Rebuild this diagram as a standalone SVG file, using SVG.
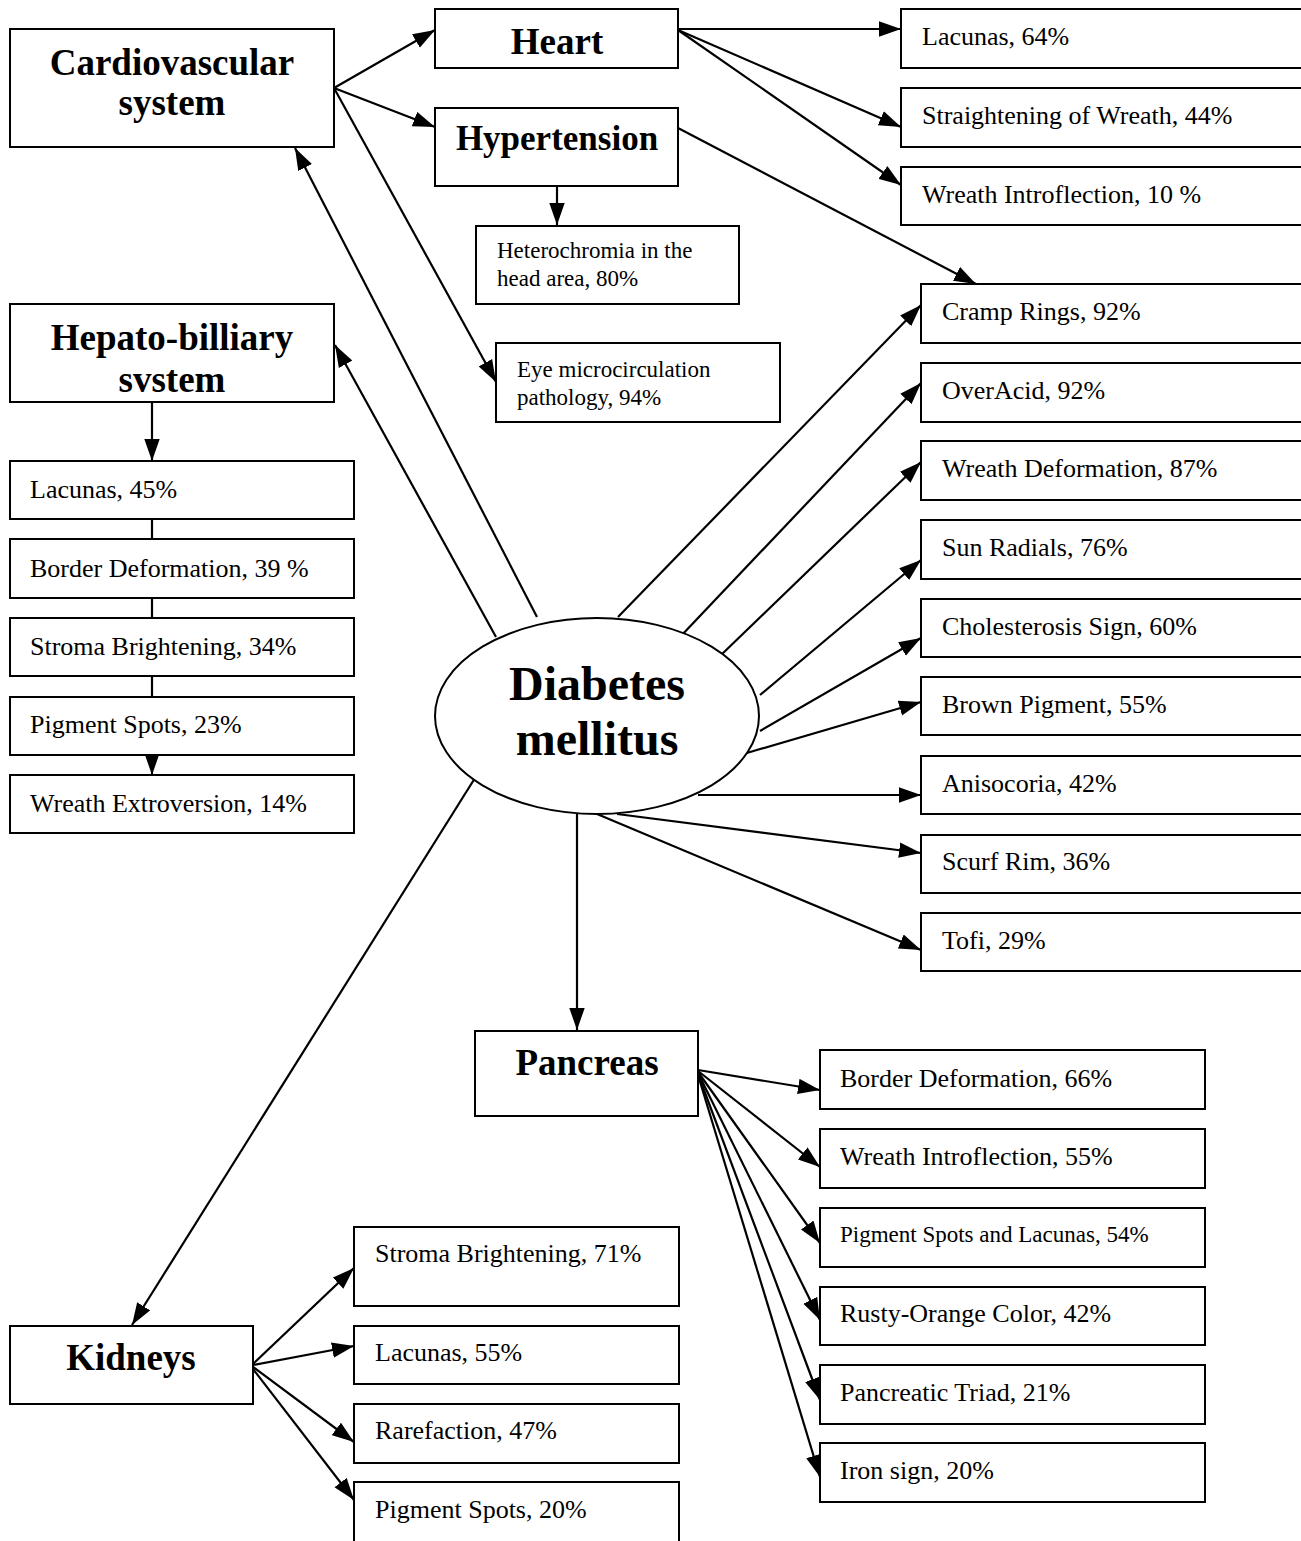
<svg xmlns="http://www.w3.org/2000/svg" width="1301" height="1541" viewBox="0 0 1301 1541">
<style>
.bx{fill:#fff;stroke:#000;stroke-width:2}
.t{font-family:"Liberation Serif","Times New Roman",serif;font-size:26px;fill:#000}
.s{font-family:"Liberation Serif","Times New Roman",serif;font-size:23px;fill:#000}
.b{font-family:"Liberation Serif","Times New Roman",serif;font-size:37px;font-weight:bold;fill:#000;text-anchor:middle}
.c line{stroke:#000;stroke-width:2.2;fill:none}
.a{marker-end:url(#ah)}
</style>
<defs>
<marker id="ah" markerUnits="userSpaceOnUse" markerWidth="22" markerHeight="16" refX="20" refY="7" orient="auto" viewBox="0 0 20 14">
<path d="M0,0 L20,7 L0,14 z" fill="#000"/>
</marker>
</defs>
<rect width="1301" height="1541" fill="#fff"/>
<g class="c" id="connectors">
<line class="a" x1="334" y1="88" x2="435" y2="30"/>
<line class="a" x1="334" y1="88" x2="435" y2="127"/>
<line class="a" x1="334" y1="88" x2="496" y2="382"/>
<line class="a" x1="537" y1="617" x2="295" y2="148"/>
<line class="a" x1="496" y1="637" x2="335" y2="345"/>
<line class="a" x1="678" y1="29" x2="901" y2="29"/>
<line class="a" x1="678" y1="30" x2="901" y2="127"/>
<line class="a" x1="678" y1="30" x2="901" y2="185"/>
<line class="a" x1="557" y1="186" x2="557" y2="225"/>
<line class="a" x1="678" y1="128" x2="976" y2="284"/>
<line class="a" x1="618" y1="617" x2="921" y2="305"/>
<line class="a" x1="680" y1="637" x2="921" y2="383"/>
<line class="a" x1="720" y1="656" x2="921" y2="462"/>
<line class="a" x1="760" y1="695" x2="921" y2="560"/>
<line class="a" x1="760" y1="731" x2="921" y2="638"/>
<line class="a" x1="740" y1="755" x2="921" y2="702"/>
<line class="a" x1="698" y1="795" x2="921" y2="795"/>
<line class="a" x1="617" y1="814" x2="921" y2="853"/>
<line class="a" x1="597" y1="814" x2="921" y2="950"/>
<line class="a" x1="577" y1="814" x2="577" y2="1030"/>
<line class="a" x1="475" y1="778" x2="132" y2="1325"/>
<line class="a" x1="152" y1="402" x2="152" y2="461"/>
<line x1="152" y1="519" x2="152" y2="539"/>
<line x1="152" y1="598" x2="152" y2="618"/>
<line x1="152" y1="676" x2="152" y2="697"/>
<line class="a" x1="152" y1="755" x2="152" y2="775"/>
<line class="a" x1="698" y1="1070" x2="820" y2="1090"/>
<line class="a" x1="698" y1="1071" x2="820" y2="1167"/>
<line class="a" x1="698" y1="1072" x2="820" y2="1243"/>
<line class="a" x1="698" y1="1073" x2="820" y2="1320"/>
<line class="a" x1="698" y1="1074" x2="820" y2="1400"/>
<line class="a" x1="698" y1="1075" x2="820" y2="1477"/>
<line class="a" x1="253" y1="1364" x2="354" y2="1268"/>
<line class="a" x1="253" y1="1365" x2="354" y2="1346"/>
<line class="a" x1="253" y1="1367" x2="354" y2="1442"/>
<line class="a" x1="253" y1="1369" x2="354" y2="1500"/>
</g>
<g id="diabetes"><ellipse class="bx" cx="597" cy="716" rx="162" ry="98"/><text class="b" style="font-size:48px" x="597" y="700">Diabetes</text><text class="b" style="font-size:48px" x="597" y="755">mellitus</text></g>
<g id="cardio"><rect class="bx" x="10" y="29" width="324" height="118"/><text class="b" x="172" y="75">Cardiovascular</text><text class="b" x="172" y="115">system</text></g>
<g id="heart"><rect class="bx" x="435" y="9" width="243" height="59"/><text class="b" x="557" y="54">Heart</text></g>
<g id="hypertension"><rect class="bx" x="435" y="108" width="243" height="78"/><text class="b" style="font-size:35px" x="557" y="150">Hypertension</text></g>
<g id="heterochromia"><rect class="bx" x="476" y="226" width="263" height="78"/><text class="s" x="497" y="258">Heterochromia in the</text><text class="s" x="497" y="286">head area, 80%</text></g>
<g id="eye"><rect class="bx" x="496" y="343" width="284" height="79"/><text class="s" x="517" y="377">Eye microcirculation</text><text class="s" x="517" y="405">pathology, 94%</text></g>
<g id="h-lacunas"><rect class="bx" x="901" y="9" width="410" height="59"/><text class="t" x="922" y="45">Lacunas, 64%</text></g>
<g id="h-straight"><rect class="bx" x="901" y="88" width="410" height="59"/><text class="t" x="922" y="124">Straightening of Wreath, 44%</text></g>
<g id="h-intro"><rect class="bx" x="901" y="167" width="410" height="58"/><text class="t" x="922" y="203">Wreath Introflection, 10 %</text></g>
<g id="cramp"><rect class="bx" x="921" y="284" width="390" height="59"/><text class="t" x="942" y="320">Cramp Rings, 92%</text></g>
<g id="overacid"><rect class="bx" x="921" y="363" width="390" height="59"/><text class="t" x="942" y="399">OverAcid, 92%</text></g>
<g id="wreathdef"><rect class="bx" x="921" y="441" width="390" height="59"/><text class="t" x="942" y="477">Wreath Deformation, 87%</text></g>
<g id="sun"><rect class="bx" x="921" y="520" width="390" height="59"/><text class="t" x="942" y="556">Sun Radials, 76%</text></g>
<g id="chol"><rect class="bx" x="921" y="599" width="390" height="58"/><text class="t" x="942" y="635">Cholesterosis Sign, 60%</text></g>
<g id="brown"><rect class="bx" x="921" y="677" width="390" height="58"/><text class="t" x="942" y="713">Brown Pigment, 55%</text></g>
<g id="aniso"><rect class="bx" x="921" y="756" width="390" height="58"/><text class="t" x="942" y="792">Anisocoria, 42%</text></g>
<g id="scurf"><rect class="bx" x="921" y="835" width="390" height="58"/><text class="t" x="942" y="870">Scurf Rim, 36%</text></g>
<g id="tofi"><rect class="bx" x="921" y="913" width="390" height="58"/><text class="t" x="942" y="949">Tofi, 29%</text></g>
<g id="hepato"><rect class="bx" x="10" y="304" width="324" height="98"/><text class="b" x="172" y="350">Hepato-billiary</text><text class="b" x="172" y="392">svstem</text></g>
<g id="hp-lacunas"><rect class="bx" x="10" y="461" width="344" height="58"/><text class="t" x="30" y="498">Lacunas, 45%</text></g>
<g id="hp-border"><rect class="bx" x="10" y="539" width="344" height="59"/><text class="t" x="30" y="577">Border Deformation, 39 %</text></g>
<g id="hp-stroma"><rect class="bx" x="10" y="618" width="344" height="58"/><text class="t" x="30" y="655">Stroma Brightening, 34%</text></g>
<g id="hp-pigment"><rect class="bx" x="10" y="697" width="344" height="58"/><text class="t" x="30" y="733">Pigment Spots, 23%</text></g>
<g id="hp-extro"><rect class="bx" x="10" y="775" width="344" height="58"/><text class="t" x="30" y="812">Wreath Extroversion, 14%</text></g>
<g id="pancreas"><rect class="bx" x="475" y="1031" width="223" height="85"/><text class="b" x="587" y="1075">Pancreas</text></g>
<g id="p-border"><rect class="bx" x="820" y="1050" width="385" height="59"/><text class="t" x="840" y="1087">Border Deformation, 66%</text></g>
<g id="p-intro"><rect class="bx" x="820" y="1129" width="385" height="59"/><text class="t" x="840" y="1165">Wreath Introflection, 55%</text></g>
<g id="p-pigment"><rect class="bx" x="820" y="1208" width="385" height="59"/><text class="s" x="840" y="1242">Pigment Spots and Lacunas, 54%</text></g>
<g id="p-rusty"><rect class="bx" x="820" y="1287" width="385" height="58"/><text class="t" x="840" y="1322">Rusty-Orange Color, 42%</text></g>
<g id="p-triad"><rect class="bx" x="820" y="1365" width="385" height="59"/><text class="t" x="840" y="1401">Pancreatic Triad, 21%</text></g>
<g id="p-iron"><rect class="bx" x="820" y="1443" width="385" height="59"/><text class="t" x="840" y="1479">Iron sign, 20%</text></g>
<g id="kidneys"><rect class="bx" x="10" y="1326" width="243" height="78"/><text class="b" x="131" y="1370">Kidneys</text></g>
<g id="k-stroma"><rect class="bx" x="354" y="1227" width="325" height="79"/><text class="t" x="375" y="1262">Stroma Brightening, 71%</text></g>
<g id="k-lacunas"><rect class="bx" x="354" y="1326" width="325" height="58"/><text class="t" x="375" y="1361">Lacunas, 55%</text></g>
<g id="k-rare"><rect class="bx" x="354" y="1404" width="325" height="59"/><text class="t" x="375" y="1439">Rarefaction, 47%</text></g>
<g id="k-pigment"><rect class="bx" x="354" y="1482" width="325" height="70"/><text class="t" x="375" y="1518">Pigment Spots, 20%</text></g>
</svg>
